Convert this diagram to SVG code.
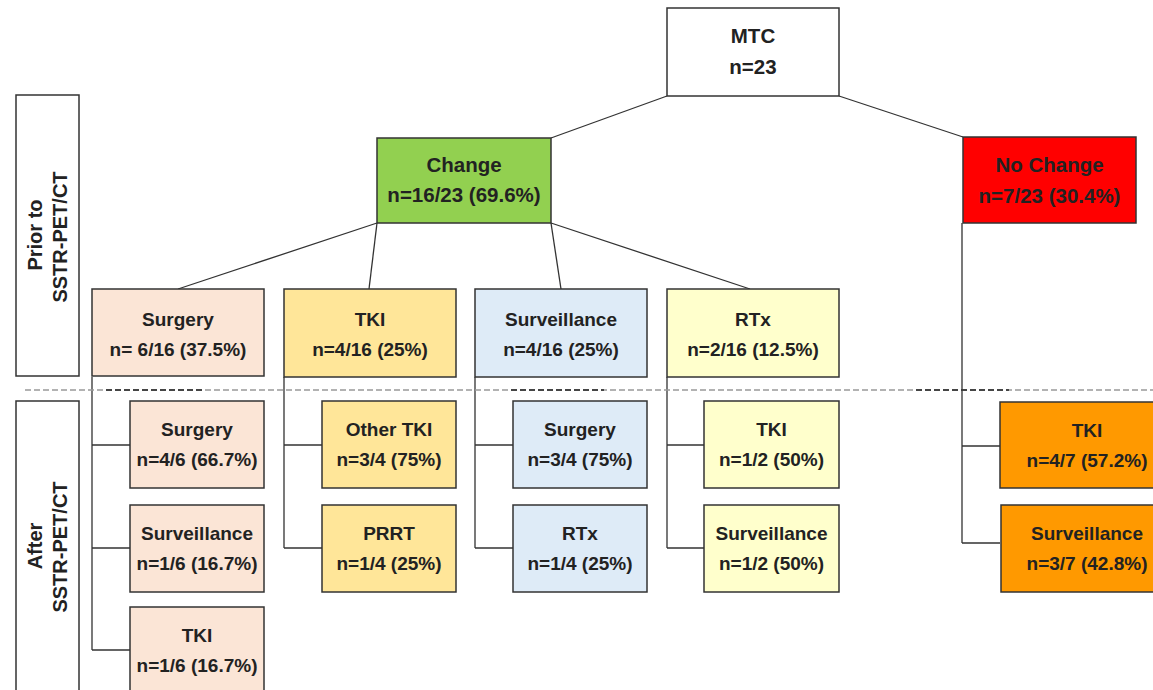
<svg xmlns="http://www.w3.org/2000/svg" width="1153" height="690" viewBox="0 0 1153 690">
<style>
.box{stroke:#333;stroke-width:1.5}
.t{font-family:"Liberation Sans",Arial,sans-serif;font-weight:bold;font-size:19px;fill:#222;text-anchor:middle}
.tb{font-size:20.5px}
.side{font-family:"Liberation Sans",Arial,sans-serif;font-weight:bold;font-size:20px;fill:#222;text-anchor:middle}
.c{stroke:#333;stroke-width:1.3;fill:none}
.dash{stroke-width:1.3;stroke-dasharray:6 3}
.peach{fill:#FBE5D6}.gold{fill:#FFE699}.blue{fill:#DEEBF7}.yel{fill:#FFFFCC}.org{fill:#FF9900}
</style>
<rect width="1153" height="690" fill="#fff"/>
<g id="connectors">
<line class="c" x1="667" y1="96" x2="551" y2="138"/>
<line class="c" x1="839" y1="96" x2="963" y2="137"/>
<line class="c" x1="377" y1="223" x2="178" y2="289"/>
<line class="c" x1="377" y1="223" x2="369" y2="289"/>
<line class="c" x1="551" y1="223" x2="561" y2="289"/>
<line class="c" x1="551" y1="223" x2="750" y2="289"/>
<path class="c" d="M92 377V650M92 445H130M92 548H130M92 650H130"/>
<path class="c" d="M284 377V548M284 445H322M284 548H322"/>
<path class="c" d="M475 377V548M475 445H513M475 548H513"/>
<path class="c" d="M667 377V548M667 445H704M667 548H704"/>
<path class="c" d="M962 223V543M962 446H1000M962 543H1000"/>
</g>
<g id="divider">
<line class="dash" x1="25" y1="390" x2="1153" y2="390" stroke="#999"/>
<line class="dash" x1="106" y1="390" x2="205" y2="390" stroke="#222"/>
<line class="dash" x1="511" y1="390" x2="604" y2="390" stroke="#222"/>
<line class="dash" x1="916" y1="390" x2="1009" y2="390" stroke="#222"/>
</g>
<g id="label-prior">
<rect class="box" x="16" y="95" width="63" height="281" fill="#fff"/>
<text class="side" transform="translate(42,235) rotate(-90)">Prior to</text>
<text class="side" transform="translate(67,237) rotate(-90)">SSTR-PET/CT</text>
</g>
<g id="label-after">
<rect class="box" x="16" y="401" width="63" height="300" fill="#fff"/>
<text class="side" transform="translate(42,546) rotate(-90)">After</text>
<text class="side" transform="translate(67,547) rotate(-90)">SSTR-PET/CT</text>
</g>
<g id="mtc">
<rect class="box" x="667" y="8" width="172" height="88" fill="#fff"/>
<text class="t tb" x="753" y="43">MTC</text>
<text class="t tb" x="753" y="74">n=23</text>
</g>
<g id="change">
<rect class="box" x="377" y="138" width="174" height="85" fill="#92D050"/>
<text class="t tb" x="464" y="172">Change</text>
<text class="t tb" x="464" y="202">n=16/23 (69.6%)</text>
</g>
<g id="nochange">
<rect class="box" x="963" y="137" width="173" height="86" fill="#FF0000"/>
<text class="t tb" x="1049.5" y="172" font-weight="normal">No Change</text>
<text class="t tb" x="1049.5" y="203" font-weight="normal">n=7/23 (30.4%)</text>
</g>
<g id="surgery">
<rect class="box peach" x="92" y="289" width="172" height="87"/>
<text class="t" x="178" y="326">Surgery</text>
<text class="t" x="178" y="356">n= 6/16 (37.5%)</text>
</g>
<g id="tki">
<rect class="box gold" x="284" y="289" width="172" height="88"/>
<text class="t" x="370" y="326">TKI</text>
<text class="t" x="370" y="356">n=4/16 (25%)</text>
</g>
<g id="surveillance">
<rect class="box blue" x="475" y="289" width="172" height="88"/>
<text class="t" x="561" y="326">Surveillance</text>
<text class="t" x="561" y="356">n=4/16 (25%)</text>
</g>
<g id="rtx">
<rect class="box yel" x="667" y="289" width="172" height="88"/>
<text class="t" x="753" y="326">RTx</text>
<text class="t" x="753" y="356">n=2/16 (12.5%)</text>
</g>
<g id="surgery-surgery">
<rect class="box peach" x="130" y="401" width="134" height="87"/>
<text class="t" x="197" y="436">Surgery</text>
<text class="t" x="197" y="466">n=4/6 (66.7%)</text>
</g>
<g id="surgery-surveillance">
<rect class="box peach" x="130" y="505" width="134" height="87"/>
<text class="t" x="197" y="540">Surveillance</text>
<text class="t" x="197" y="570">n=1/6 (16.7%)</text>
</g>
<g id="surgery-tki">
<rect class="box peach" x="130" y="607" width="134" height="95"/>
<text class="t" x="197" y="642">TKI</text>
<text class="t" x="197" y="672">n=1/6 (16.7%)</text>
</g>
<g id="tki-other">
<rect class="box gold" x="322" y="401" width="134" height="87"/>
<text class="t" x="389" y="436">Other TKI</text>
<text class="t" x="389" y="466">n=3/4 (75%)</text>
</g>
<g id="tki-prrt">
<rect class="box gold" x="322" y="505" width="134" height="87"/>
<text class="t" x="389" y="540">PRRT</text>
<text class="t" x="389" y="570">n=1/4 (25%)</text>
</g>
<g id="surv-surgery">
<rect class="box blue" x="513" y="401" width="134" height="87"/>
<text class="t" x="580" y="436">Surgery</text>
<text class="t" x="580" y="466">n=3/4 (75%)</text>
</g>
<g id="surv-rtx">
<rect class="box blue" x="513" y="505" width="134" height="87"/>
<text class="t" x="580" y="540">RTx</text>
<text class="t" x="580" y="570">n=1/4 (25%)</text>
</g>
<g id="rtx-tki">
<rect class="box yel" x="704" y="401" width="135" height="87"/>
<text class="t" x="771.5" y="436">TKI</text>
<text class="t" x="771.5" y="466">n=1/2 (50%)</text>
</g>
<g id="rtx-surveillance">
<rect class="box yel" x="704" y="505" width="135" height="87"/>
<text class="t" x="771.5" y="540">Surveillance</text>
<text class="t" x="771.5" y="570">n=1/2 (50%)</text>
</g>
<g id="nc-tki">
<rect class="box org" x="1000" y="402" width="174" height="86"/>
<text class="t" x="1087" y="437">TKI</text>
<text class="t" x="1087" y="467">n=4/7 (57.2%)</text>
</g>
<g id="nc-surveillance">
<rect class="box org" x="1001" y="505" width="173" height="87"/>
<text class="t" x="1087" y="540">Surveillance</text>
<text class="t" x="1087" y="570">n=3/7 (42.8%)</text>
</g>
</svg>
